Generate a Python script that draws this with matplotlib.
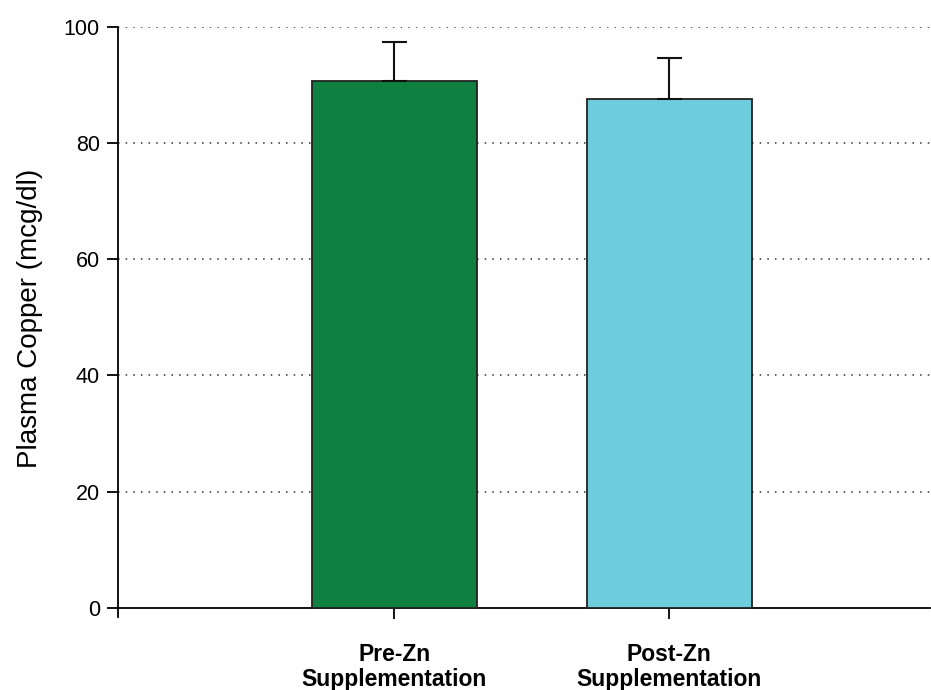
import numpy as np
import matplotlib.pyplot as plt

plt.rcParams['font.family'] = ['Liberation Sans', 'DejaVu Sans']

# data
groups = ['Pre-Zn\nSupplementation', 'Post-Zn\nSupplementation']
means = [90.7, 87.5]
errors = [6.7, 7.1]
colors = ['#0e8040', '#6ecddd']

fig = plt.figure(figsize=(9.31, 6.9), dpi=100)
ax = fig.add_axes([0.1267, 0.1062, 0.8723, 0.8551])

x = np.arange(len(groups))
ax.bar(x, means, width=0.6, color=colors, edgecolor='#222222', linewidth=1.3, zorder=3)
ax.errorbar(x, means, yerr=[np.zeros(len(errors)), errors], fmt='none',
            ecolor='#111111', elinewidth=1.5, capsize=9, capthick=1.5, zorder=4)

ax.set_xlim(-1.004, 1.949)
ax.set_ylim(-1.5, 100)
ax.set_yticks([0, 20, 40, 60, 80, 100])
ax.set_xticks(x)

# dotted grid lines, none at zero
for g in [20, 40, 60, 80, 100]:
    ax.axhline(g, color='#333333', linestyle=(0, (1, 4)), linewidth=1.1, zorder=1)

ax.spines['top'].set_visible(False)
ax.spines['right'].set_visible(False)
ax.spines['bottom'].set_position(('data', 0))
ax.spines['left'].set_linewidth(1.3)
ax.spines['bottom'].set_linewidth(1.3)
ax.tick_params(axis='y', labelsize=15.5, length=8, width=1.3, direction='out', pad=5)
ax.tick_params(axis='x', length=8, width=1.3, direction='out', pad=17)
ax.set_xticklabels(groups, fontsize=16.5, fontweight='bold', linespacing=1.12)
ax.set_ylabel('Plasma Copper (mcg/dl)', fontsize=20)
ax.yaxis.set_label_coords(-0.092, 0.506)

fig.savefig('out.png', dpi=100, facecolor='white')
